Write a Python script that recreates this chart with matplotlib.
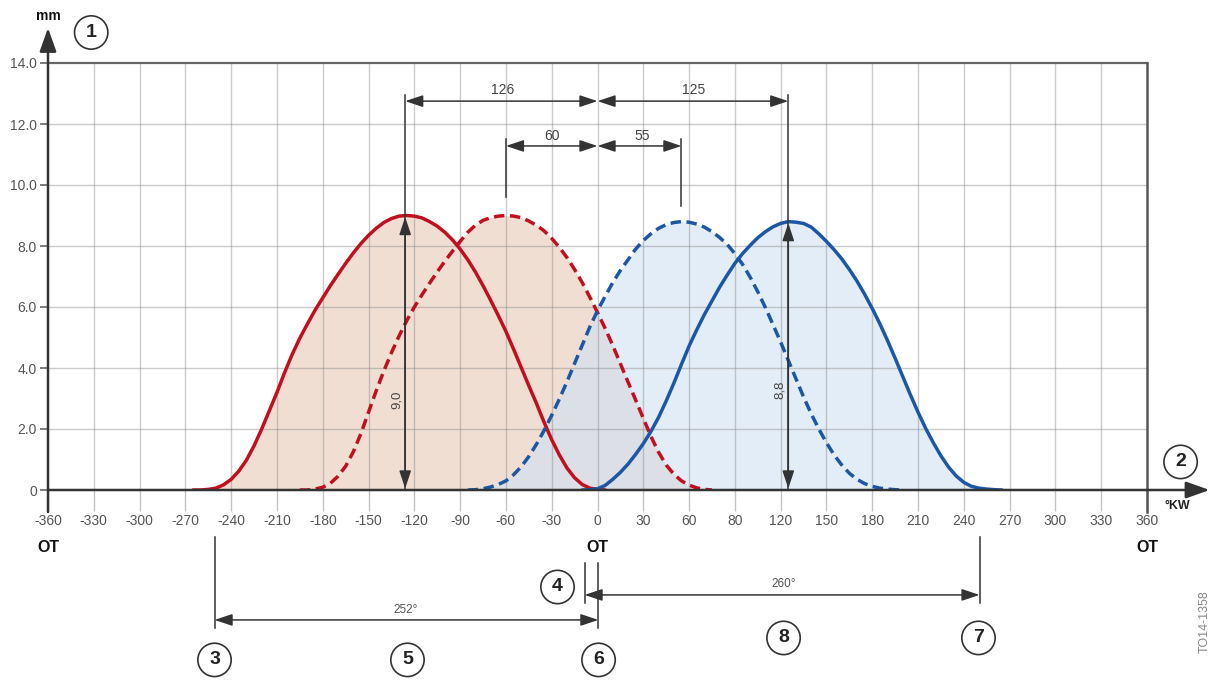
import matplotlib.pyplot as plt
import numpy as np

plt.rcParams['font.family'] = ['Liberation Sans', 'DejaVu Sans']

# valve lift curves, every 5 °KW: lift in mm
# exhaust, solid red
ex_base_x = list(range(-265, 10, 5))
ex_base_y = [0, 0, 0.02, 0.06, 0.17, 0.35, 0.62, 0.98, 1.45, 2.0, 2.6, 3.2, 3.85, 4.45, 4.98,
             5.45, 5.9, 6.3, 6.7, 7.07, 7.43, 7.77, 8.08, 8.35, 8.58, 8.77, 8.9, 8.98, 9.0,
             8.98, 8.92, 8.8, 8.65, 8.45, 8.2, 7.9, 7.55, 7.15, 6.7, 6.22, 5.72, 5.2, 4.62,
             4.02, 3.42, 2.84, 2.22, 1.65, 1.15, 0.72, 0.4, 0.18, 0.06, 0.02, 0]
# exhaust, dashed red
ex_shift_x = list(range(-195, 80, 5))
ex_shift_y = [0, 0, 0.03, 0.09, 0.22, 0.45, 0.78, 1.25, 1.85, 2.55, 3.25, 3.9, 4.5, 5.05,
              5.55, 6.0, 6.4, 6.78, 7.15, 7.5, 7.83, 8.15, 8.45, 8.68, 8.84, 8.93, 8.98, 9.0,
              8.98, 8.93, 8.82, 8.68, 8.5, 8.25, 7.96, 7.62, 7.23, 6.8, 6.32, 5.82, 5.3, 4.74,
              4.14, 3.54, 2.95, 2.35, 1.76, 1.24, 0.82, 0.52, 0.3, 0.16, 0.07, 0.02, 0]
# intake, dashed blue
in_shift_x = list(range(-85, 205, 5))
in_shift_y = [0, 0.01, 0.04, 0.1, 0.18, 0.3, 0.5, 0.76, 1.1, 1.5, 1.95, 2.45, 2.98, 3.55,
              4.15, 4.75, 5.35, 5.88, 6.35, 6.8, 7.2, 7.55, 7.9, 8.18, 8.4, 8.58, 8.7, 8.77,
              8.8, 8.78, 8.72, 8.62, 8.47, 8.28, 8.05, 7.75, 7.4, 6.98, 6.5, 5.98, 5.42, 4.85,
              4.25, 3.65, 3.05, 2.5, 2.0, 1.55, 1.15, 0.82, 0.55, 0.35, 0.21, 0.12, 0.06, 0.03,
              0.01, 0]
# intake, solid blue
in_base_x = list(range(-10, 270, 5))
in_base_y = [0, 0.01, 0.04, 0.15, 0.35, 0.58, 0.85, 1.17, 1.52, 1.92, 2.38, 2.92, 3.5, 4.12,
             4.72, 5.25, 5.75, 6.2, 6.65, 7.05, 7.43, 7.75, 8.02, 8.27, 8.47, 8.63, 8.74, 8.8,
             8.78, 8.74, 8.62, 8.4, 8.15, 7.88, 7.58, 7.23, 6.85, 6.42, 5.95, 5.45, 4.9, 4.32,
             3.72, 3.12, 2.55, 2.02, 1.55, 1.12, 0.75, 0.46, 0.25, 0.12, 0.06, 0.03, 0.01, 0]

x_ticks = list(range(-360, 361, 30))
x_labels = ['-360', '-330', '-300', '-270', '-240', '-210', '-180', '-150', '-120', '-90', '-60',
            '-30', '0', '30', '60', '80', '120', '150', '180', '210', '240', '270', '300', '330', '360']
y_ticks = [0, 2, 4, 6, 8, 10, 12, 14]
y_labels = ['0', '2.0', '4.0', '6.0', '8.0', '10.0', '12.0', '14.0']

red = '#c10f1f'
blue = '#1c57a6'
dark = '#333333'

fig = plt.figure(figsize=(12.13, 6.81), dpi=100)
ax = fig.add_axes([48 / 1213, 191 / 681, 1099 / 1213, 427 / 681])
ax.set_xlim(-360, 360)
ax.set_ylim(0, 14)
for s in ax.spines.values():
    s.set_visible(False)

ax.set_xticks(x_ticks)
ax.set_xticklabels(x_labels)
ax.set_yticks(y_ticks)
ax.set_yticklabels(y_labels)
ax.tick_params(axis='x', length=15, width=1, color='#c4c4c4', pad=2, labelsize=10, labelcolor='#555555')
ax.tick_params(axis='y', length=6, width=1.2, color='#666666', pad=2, labelsize=10, labelcolor='#555555')

# grid
for v in x_ticks[1:-1]:
    ax.axvline(v, color='#8c8c8c', alpha=0.45, lw=1, zorder=1.5)
for v in y_ticks[1:-1]:
    ax.axhline(v, color='#8c8c8c', alpha=0.45, lw=1, zorder=1.5)
ax.plot([-360, 360], [14, 14], color='#666666', lw=1.6, clip_on=False, zorder=2)
ax.plot([360, 360], [-0.72, 14], color='#555555', lw=1.8, clip_on=False, zorder=2)

# shaded areas under the lift curves
xs = np.arange(-270, 281, 0.5)
ex_top = np.maximum(np.interp(xs, ex_base_x, ex_base_y, left=0, right=0),
                    np.interp(xs, ex_shift_x, ex_shift_y, left=0, right=0))
in_top = np.maximum(np.interp(xs, in_base_x, in_base_y, left=0, right=0),
                    np.interp(xs, in_shift_x, in_shift_y, left=0, right=0))
ax.fill_between(xs, 0, ex_top, color='#f0ded2', lw=0, zorder=1)
ax.fill_between(xs, 0, in_top, color='#d0e1f3', alpha=0.6, lw=0, zorder=1.1)

# curves
ax.plot(ex_base_x, ex_base_y, color=red, lw=2.5, zorder=4, solid_capstyle='round', solid_joinstyle='round')
ax.plot(ex_shift_x, ex_shift_y, color=red, lw=2.5, ls=(0, (3.0, 1.6)), zorder=4)
ax.plot(in_shift_x, in_shift_y, color=blue, lw=2.5, ls=(0, (3.0, 1.6)), zorder=4)
ax.plot(in_base_x, in_base_y, color=blue, lw=2.5, zorder=4, solid_capstyle='round', solid_joinstyle='round')

# axes with arrows
ax_arrow = dict(arrowstyle='-|>,head_length=0.9,head_width=0.32', color=dark, lw=1.8,
                shrinkA=0, shrinkB=0, mutation_scale=16)
ax.annotate('', xy=(-360, 15.15), xytext=(-360, -0.72), arrowprops=ax_arrow, annotation_clip=False, zorder=6)
ax.annotate('', xy=(401, 0), xytext=(-360, 0), arrowprops=ax_arrow, annotation_clip=False, zorder=6)
ax.text(-360, 15.55, 'mm', ha='center', va='center', fontsize=10, fontweight='bold', color='#111111')
ax.text(380, -0.52, '°KW', ha='center', va='center', fontsize=9, fontweight='bold', color='#222222')
for v in [-360, 0, 360]:
    ax.text(v, -1.9, 'OT', ha='center', va='center', fontsize=11.5, fontweight='bold',
            color='#111111', clip_on=False)


def dim_arrow(x0, y0, x1, y1, style='<|-|>'):
    ax.annotate('', xy=(x1, y1), xytext=(x0, y0),
                arrowprops=dict(arrowstyle=style + ',head_length=0.6,head_width=0.2', color=dark,
                                lw=1.1, shrinkA=0, shrinkB=0, mutation_scale=18),
                annotation_clip=False, zorder=5)


def vline(x, y0, y1):
    ax.plot([x, x], [y0, y1], color=dark, lw=1.1, clip_on=False, zorder=5)


def marker(x, y, s):
    ax.text(x, y, s, ha='center', va='center', fontsize=14, fontweight='bold', color='#222222',
            bbox=dict(boxstyle='circle,pad=0.42', fc='white', ec=dark, lw=1.2), clip_on=False, zorder=7)


# top dimensions
vline(-126, 0, 12.95)
vline(125, 0, 12.95)
vline(-60, 9.6, 11.5)
vline(55, 9.3, 11.5)
dim_arrow(-126, 12.75, 0, 12.75)
dim_arrow(0, 12.75, 125, 12.75)
dim_arrow(-60, 11.28, 0, 11.28)
dim_arrow(0, 11.28, 55, 11.28)
lab = dict(ha='center', va='center', fontsize=10, color='#444444')
ax.text(-62, 13.1, '126', **lab)
ax.text(63, 13.1, '125', **lab)
ax.text(-29.5, 11.62, '60', **lab)
ax.text(29, 11.62, '55', **lab)

# lift heights
dim_arrow(-126, 0.05, -126, 8.95)
dim_arrow(125, 0.05, 125, 8.75)
ax.text(-131.5, 2.95, '9,0', ha='center', va='center', fontsize=9.5, color='#444444', rotation=90, zorder=6)
ax.text(119.5, 3.3, '8,8', ha='center', va='center', fontsize=9.5, color='#444444', rotation=90, zorder=6)

# bottom dimensions
vline(-250.9, -1.54, -4.52)
vline(0.6, -2.39, -4.52)
vline(-8.5, -2.39, -3.70)
vline(250.3, -1.54, -3.70)
dim_arrow(-250.9, -4.26, 0.6, -4.26)
dim_arrow(-8.5, -3.44, 250.3, -3.44)
ax.text(-126, -3.93, '252°', ha='center', va='center', fontsize=8.5, color='#555555')
ax.text(122, -3.07, '260°', ha='center', va='center', fontsize=8.5, color='#555555')

marker(-331.7, 15.0, '1')
marker(382, 0.92, '2')
marker(-250.9, -5.57, '3')
marker(-26.2, -3.18, '4')
marker(-124.5, -5.57, '5')
marker(0.7, -5.57, '6')
marker(249.6, -4.85, '7')
marker(121.9, -4.85, '8')

ax.text(398, -4.3, 'TO14-1358', ha='center', va='center', fontsize=9, color='#888888', rotation=90)

fig.savefig('out.png', dpi=100)
